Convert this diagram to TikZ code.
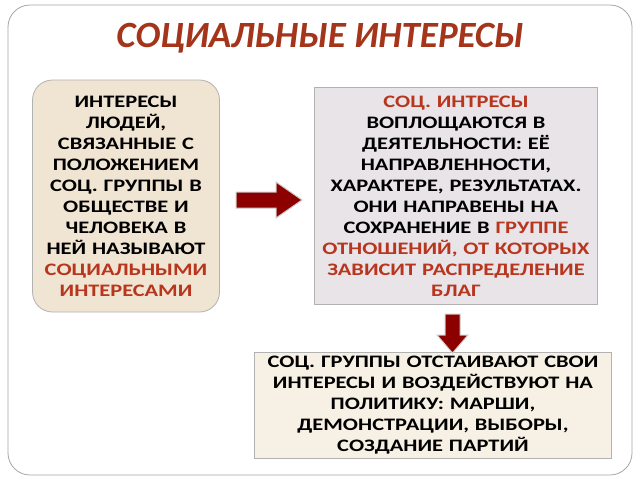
\documentclass[tikz,border=0pt]{standalone}
\usepackage{fontspec}
\setmainfont{Carlito}
\newfontfamily\wide[FakeStretch=1.28]{Carlito}
\begin{document}
\begin{tikzpicture}[x=1pt,y=-1pt,
  box/.style={draw=gray!60,line width=0.8pt,rounded corners=#1,align=center,inner sep=2pt,font=\wide\fontsize{17.5}{21}\selectfont\bfseries},
  arr/.style={fill=red!55!black,draw=gray!40,line width=1pt}]
\definecolor{hl}{HTML}{B8351E}
\definecolor{ttl}{HTML}{A4341A}
\useasboundingbox (0,0) rectangle (640,480);
\fill[white] (0,0) rectangle (640,480);
\draw[gray!70,line width=0.8pt,rounded corners=22] (8,5) rectangle (632,475);
\node[font=\fontsize{37}{40}\selectfont\bfseries\itshape,text=ttl] (title) at (320,38) {СОЦИАЛЬНЫЕ ИНТЕРЕСЫ};
\node[box=20,fill={rgb,255:red,240;green,228;blue,210},minimum width=187,minimum height=232,text width=183] (L) at (126,196)
 {ИНТЕРЕСЫ\\ЛЮДЕЙ,\\СВЯЗАННЫЕ С\\ПОЛОЖЕНИЕМ\\СОЦ. ГРУППЫ В\\ОБЩЕСТВЕ И\\ЧЕЛОВЕКА В\\НЕЙ НАЗЫВАЮТ\\\textcolor{hl}{СОЦИАЛЬНЫМИ}\\\textcolor{hl}{ИНТЕРЕСАМИ}};
\node[box=0,fill={rgb,255:red,232;green,228;blue,232},minimum width=283,minimum height=217,text width=279] (R) at (456,196)
 {\textcolor{hl}{СОЦ. ИНТРЕСЫ}\\ВОПЛОЩАЮТСЯ В\\ДЕЯТЕЛЬНОСТИ: ЕЁ\\НАПРАВЛЕННОСТИ,\\ХАРАКТЕРЕ, РЕЗУЛЬТАТАХ.\\ОНИ НАПРАВЕНЫ НА\\СОХРАНЕНИЕ В \textcolor{hl}{ГРУППЕ}\\\textcolor{hl}{ОТНОШЕНИЙ, ОТ КОТОРЫХ}\\\textcolor{hl}{ЗАВИСИТ РАСПРЕДЕЛЕНИЕ}\\\textcolor{hl}{БЛАГ}};
\node[box=0,fill={rgb,255:red,247;green,240;blue,228},minimum width=357,minimum height=106,text width=353] (B) at (433,405)
 {СОЦ. ГРУППЫ ОТСТАИВАЮТ СВОИ\\ИНТЕРЕСЫ И ВОЗДЕЙСТВУЮТ НА\\ПОЛИТИКУ: МАРШИ,\\ДЕМОНСТРАЦИИ, ВЫБОРЫ,\\СОЗДАНИЕ ПАРТИЙ};
\draw[arr] (236,192) -- (276,192) -- (276,182) -- (302,200) -- (276,218) -- (276,208) -- (236,208) -- cycle;
\draw[arr] (445,314) -- (460,314) -- (460,335) -- (468,335) -- (452.5,353) -- (437,335) -- (445,335) -- cycle;
\end{tikzpicture}
\end{document}
